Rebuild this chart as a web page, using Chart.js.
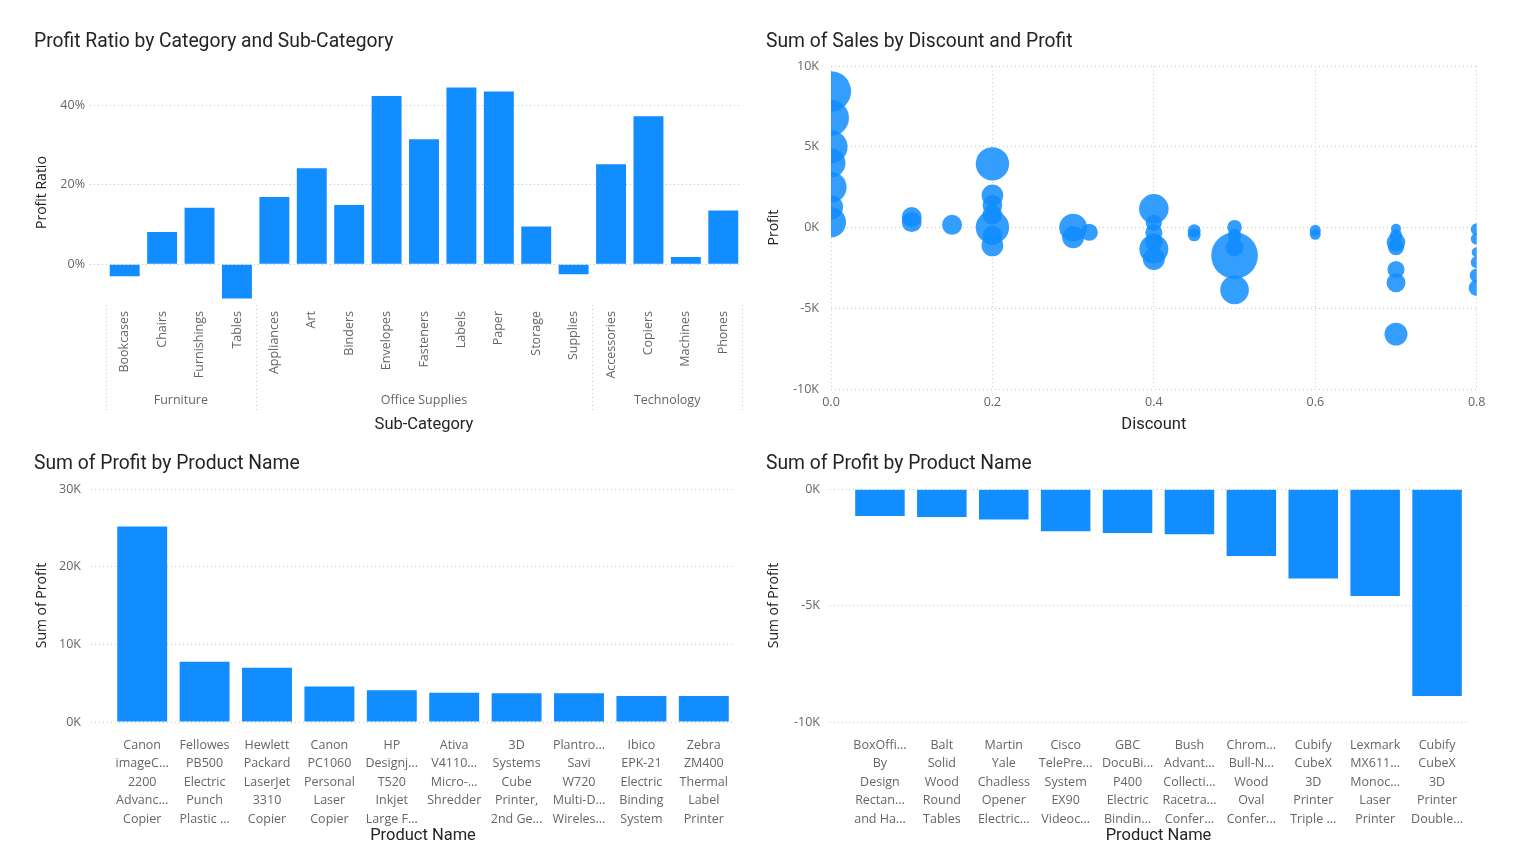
<!DOCTYPE html>
<html>
<head>
<meta charset="utf-8">
<title>Superstore profit dashboard</title>
<script src="https://cdn.jsdelivr.net/npm/chart.js@4.4.1/dist/chart.umd.min.js"></script>
<style>
  html, body { margin: 0; padding: 0; background: #fff; }
  .panel { position: absolute; }
</style>
</head>
<body>
<div class="panel" style="left:20px;top:20px;width:740px;height:420px"><canvas id="ratioChart"></canvas></div>
<div class="panel" style="left:760px;top:20px;width:740px;height:420px"><canvas id="salesChart"></canvas></div>
<div class="panel" style="left:20px;top:443px;width:740px;height:403px"><canvas id="topChart"></canvas></div>
<div class="panel" style="left:760px;top:443px;width:740px;height:403px"><canvas id="bottomChart"></canvas></div>
<script>
// --- data ---
const categoryNames = ['Furniture', 'Office Supplies', 'Technology'];
const furnitureSubs = ['Bookcases', 'Chairs', 'Furnishings', 'Tables'];
const officeSubs = ['Appliances', 'Art', 'Binders', 'Envelopes', 'Fasteners', 'Labels', 'Paper', 'Storage', 'Supplies'];
const techSubs = ['Accessories', 'Copiers', 'Machines', 'Phones'];
const profitRatios = [-0.030, 0.081, 0.142, -0.086, 0.169, 0.241, 0.149, 0.423, 0.314, 0.444, 0.434, 0.095, -0.025, 0.251, 0.372, 0.018, 0.135];
const ratioTicks = [0, 0.2, 0.4];

// bubble chart: discount, profit, sales
const discounts = [0, 0, 0, 0, 0, 0, 0,
  0.1, 0.1, 0.15,
  0.2, 0.2, 0.2, 0.2, 0.2, 0.2, 0.2,
  0.3, 0.3, 0.32,
  0.4, 0.4, 0.4, 0.4, 0.4, 0.4,
  0.45, 0.45,
  0.5, 0.5, 0.5, 0.5, 0.5,
  0.6, 0.6,
  0.7, 0.7, 0.7, 0.7, 0.7, 0.7, 0.7,
  0.8, 0.8, 0.8, 0.8, 0.8, 0.8];
const bubbleProfits = [8440, 6790, 5000, 4000, 2500, 1260, 330,
  650, 340, 170,
  3950, 2000, 1400, 800, 20, -500, -1110,
  0, -600, -290,
  1160, 300, -300, -900, -1320, -1940,
  -200, -450,
  20, -500, -1220, -1730, -3860,
  -170, -420,
  -80, -500, -910, -1220, -2600, -3420, -6600,
  -100, -700, -1530, -2150, -2970, -3740];
const bubbleSales = [50000, 40000, 34000, 26000, 30000, 18000, 28000,
  12300, 12300, 12300,
  34400, 14500, 12000, 12000, 34400, 12000, 14500,
  24000, 15000, 9000,
  27000, 8000, 9000, 10000, 26000, 15000,
  5200, 5200,
  6600, 6000, 10000, 67000, 25200,
  3700, 3700,
  3100, 5000, 10700, 8000, 9000, 11100, 16300,
  4400, 4400, 3100, 4400, 6000, 7900];

// top 10 / bottom 10 products by profit (labels as wrapped on screen)
const topProducts = [
  ['Canon', 'imageC...', '2200', 'Advanc...', 'Copier'],
  ['Fellowes', 'PB500', 'Electric', 'Punch', 'Plastic ...'],
  ['Hewlett', 'Packard', 'LaserJet', '3310', 'Copier'],
  ['Canon', 'PC1060', 'Personal', 'Laser', 'Copier'],
  ['HP', 'Designj...', 'T520', 'Inkjet', 'Large F...'],
  ['Ativa', 'V4110...', 'Micro-...', 'Shredder'],
  ['3D', 'Systems', 'Cube', 'Printer,', '2nd Ge...'],
  ['Plantro...', 'Savi', 'W720', 'Multi-D...', 'Wireles...'],
  ['Ibico', 'EPK-21', 'Electric', 'Binding', 'System'],
  ['Zebra', 'ZM400', 'Thermal', 'Label', 'Printer']
];
const topProfits = [25200, 7753, 6984, 4571, 4095, 3773, 3718, 3696, 3345, 3344];
const topTicks = [0, 10000, 20000, 30000];

const bottomProducts = [
  ['BoxOffi...', 'By', 'Design', 'Rectan...', 'and Ha...'],
  ['Balt', 'Solid', 'Wood', 'Round', 'Tables'],
  ['Martin', 'Yale', 'Chadless', 'Opener', 'Electric...'],
  ['Cisco', 'TelePre...', 'System', 'EX90', 'Videoc...'],
  ['GBC', 'DocuBi...', 'P400', 'Electric', 'Bindin...'],
  ['Bush', 'Advant...', 'Collecti...', 'Racetra...', 'Confer...'],
  ['Chrom...', 'Bull-N...', 'Wood', 'Oval', 'Confer...'],
  ['Cubify', 'CubeX', '3D', 'Printer', 'Triple ...'],
  ['Lexmark', 'MX611...', 'Monoc...', 'Laser', 'Printer'],
  ['Cubify', 'CubeX', '3D', 'Printer', 'Double...']
];
const bottomProfits = [-1148, -1201, -1299, -1811, -1878, -1934, -2876, -3840, -4590, -8880];
const bottomTicks = [-10000, -5000, 0];

// --- shared look ---
const blue = '#118DFF';
const gridColor = '#C8C6C4';
const tickColor = '#666666';
const titleColor = '#252423';
Chart.defaults.font.family = 'Roboto, sans-serif';
Chart.defaults.color = tickColor;
Chart.defaults.animation = false;

const tickFont = { family: 'Open Sans', size: 12.5 };
const axisTitleFont = { family: 'Open Sans', size: 14 };
const xTitleFont = { family: 'Roboto', size: 16.5 };
const kFormat = v => (v / 1000) + 'K';

function chartTitle(text, top, bottom) {
  return {
    display: true, text: text, align: 'start', color: titleColor,
    font: { family: 'Roboto', size: 19.3, weight: 'normal' },
    padding: { top: top, bottom: bottom }
  };
}
function dottedGrid(tickLength) {
  return {
    color: gridColor, lineWidth: 1,
    drawTicks: tickLength > 0, tickLength: tickLength,
    tickColor: gridColor, tickBorderDash: [1, 3], borderDash: [1, 3]
  };
}

// --- chart 1: profit ratio by category / sub-category ---
const groups = [furnitureSubs, officeSubs, techSubs];
const subCategories = [].concat(...groups);
const groupEdges = [-0.5];
groups.forEach(g => groupEdges.push(groupEdges[groupEdges.length - 1] + g.length));
const groupCenters = groups.map((g, i) => (groupEdges[i] + groupEdges[i + 1]) / 2);

// dotted separators between category groups in the axis area
const groupSeparators = {
  id: 'groupSeparators',
  afterDraw(chart) {
    const x = chart.scales.x;
    const x2 = chart.scales.x2;
    const ctx = chart.ctx;
    ctx.save();
    ctx.strokeStyle = gridColor;
    ctx.lineWidth = 1;
    ctx.setLineDash([1, 3]);
    groupEdges.forEach(v => {
      const px = Math.round(x.getPixelForValue(v)) + 0.5;
      ctx.beginPath();
      ctx.moveTo(px, chart.chartArea.bottom + 5);
      ctx.lineTo(px, x2.bottom - 30);
      ctx.stroke();
    });
    ctx.restore();
  }
};

new Chart(document.getElementById('ratioChart'), {
  type: 'bar',
  data: {
    labels: subCategories,
    datasets: [{ data: profitRatios, backgroundColor: blue, barPercentage: 0.8, categoryPercentage: 1 }]
  },
  options: {
    responsive: true, maintainAspectRatio: false,
    layout: { padding: { left: 14, right: 18, top: 0, bottom: 0 } },
    plugins: { legend: { display: false }, tooltip: { enabled: false },
      title: chartTitle('Profit Ratio by Category and Sub-Category', 11, 31) },
    scales: {
      x: {
        offset: true,
        grid: { display: false }, border: { display: false },
        ticks: { autoSkip: false, minRotation: 90, maxRotation: 90, padding: 3, font: tickFont },
        afterFit: s => { s.height = 85; }
      },
      x2: {
        type: 'category', position: 'bottom', labels: subCategories, offset: true,
        grid: { display: false }, border: { display: false },
        afterBuildTicks: s => { s.ticks = groupCenters.map(v => ({ value: v })); },
        ticks: { autoSkip: false, maxRotation: 0, padding: 0, font: tickFont, callback: (v, i) => categoryNames[i] },
        title: { display: true, text: 'Sub-Category', color: titleColor, font: xTitleFont, padding: { top: 0, bottom: 5 } },
        afterFit: s => { s.height = 55; }
      },
      y: {
        min: -0.09, max: 0.45,
        afterBuildTicks: s => { s.ticks = ratioTicks.map(v => ({ value: v })); },
        grid: dottedGrid(16), border: { display: false, dash: [1, 3] },
        ticks: { padding: 5, font: tickFont, callback: v => Math.round(v * 100) + '%' },
        title: { display: true, text: 'Profit Ratio', color: titleColor, font: axisTitleFont, padding: { top: 0, bottom: 0 } },
        afterFit: s => { s.width = 72; }
      }
    }
  },
  plugins: [groupSeparators]
});

// --- chart 2: sum of sales by discount and profit ---
new Chart(document.getElementById('salesChart'), {
  type: 'bubble',
  data: {
    datasets: [{
      data: discounts.map((d, i) => ({ x: d, y: bubbleProfits[i], r: Math.sqrt(bubbleSales[i]) * 0.09 })),
      backgroundColor: 'rgba(17,141,255,0.85)', borderWidth: 0, clip: 0
    }]
  },
  options: {
    responsive: true, maintainAspectRatio: false,
    layout: { padding: { left: 6, right: 22, top: 0, bottom: 0 } },
    plugins: { legend: { display: false }, tooltip: { enabled: false },
      title: chartTitle('Sum of Sales by Discount and Profit', 11, 12) },
    scales: {
      x: {
        type: 'linear', min: 0, max: 0.8,
        grid: dottedGrid(0), border: { display: false, dash: [1, 3] },
        ticks: { stepSize: 0.2, padding: 6, font: tickFont, callback: v => v.toFixed(1) },
        title: { display: true, text: 'Discount', color: titleColor, font: xTitleFont, padding: { top: 0, bottom: 5 } },
        afterFit: s => { s.height = 51; }
      },
      y: {
        min: -10000, max: 10000,
        grid: dottedGrid(0), border: { display: false, dash: [1, 3] },
        ticks: { stepSize: 5000, padding: 12, font: tickFont, callback: kFormat },
        title: { display: true, text: 'Profit', color: titleColor, font: axisTitleFont, padding: { top: 0, bottom: 0 } },
        afterFit: s => { s.width = 65; }
      }
    }
  }
});

// --- charts 3 and 4: sum of profit by product name ---
function productChart(id, labels, values, ticks, yMin, yMax, tickLength, axisWidth, padLeft, padRight) {
  return new Chart(document.getElementById(id), {
    type: 'bar',
    data: {
      labels: labels,
      datasets: [{ data: values, backgroundColor: blue, barPercentage: 0.8, categoryPercentage: 1 }]
    },
    options: {
      responsive: true, maintainAspectRatio: false,
      layout: { padding: { left: padLeft, right: padRight, top: 0, bottom: 0 } },
      plugins: { legend: { display: false }, tooltip: { enabled: false },
        title: chartTitle('Sum of Profit by Product Name', 10, 13) },
      scales: {
        x: {
          grid: { display: false }, border: { display: false },
          ticks: { autoSkip: false, maxRotation: 0, minRotation: 0, padding: 6,
            font: { family: 'Open Sans', size: 12.5, lineHeight: 1.48 } },
          title: { display: true, text: 'Product Name', color: titleColor, font: xTitleFont, padding: { top: 0, bottom: 0 } },
          afterFit: s => { s.height = 124; }
        },
        y: {
          min: yMin, max: yMax,
          afterBuildTicks: s => { s.ticks = ticks.map(v => ({ value: v })); },
          grid: dottedGrid(tickLength), border: { display: false, dash: [1, 3] },
          ticks: { padding: 10, font: tickFont, callback: kFormat },
          title: { display: true, text: 'Sum of Profit', color: titleColor, font: axisTitleFont, padding: { top: 0, bottom: 0 } },
          afterFit: s => { s.width = axisWidth; }
        }
      }
    }
  });
}

productChart('topChart', topProducts, topProfits, topTicks, 0, 30000, 20, 77, 14, 25);
productChart('bottomChart', bottomProducts, bottomProfits, bottomTicks, -10000, 0, 19, 83, 6, 32);
</script>
</body>
</html>
